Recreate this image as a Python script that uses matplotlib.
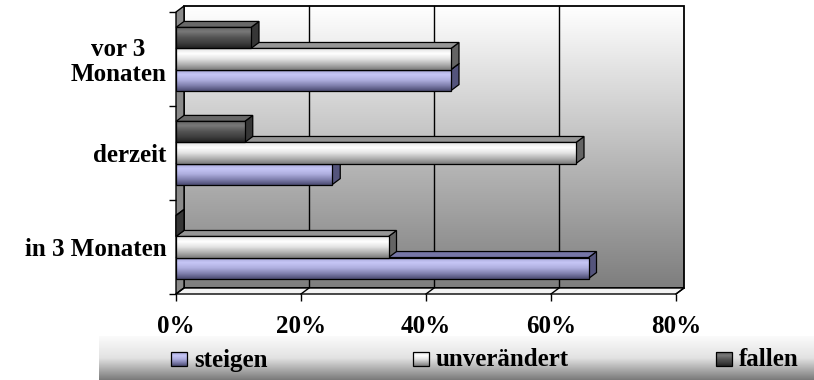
import numpy as np
import matplotlib.pyplot as plt
from matplotlib.patches import Polygon, Rectangle
from matplotlib.colors import LinearSegmentedColormap

# Erwartung Preise: Anteil der Antworten je Zeitpunkt
categories = ["in 3 Monaten", "derzeit", "vor 3\nMonaten"]
series = ["steigen", "unverändert", "fallen"]
steigen = [66, 25, 44]
unveraendert = [34, 64, 44]
fallen = [0, 11, 12]
x_ticks = [0, 20, 40, 60, 80]
x_labels = ["0%", "20%", "40%", "60%", "80%"]

plt.rcParams['font.family'] = ['Liberation Serif', 'DejaVu Serif']
plt.rcParams['font.weight'] = 'bold'
FS = 18

# colour ramps for the faces, listed top to bottom
styles = {
    "steigen": dict(front=['#a2a2d2', '#c6c6f6', '#aeaede', '#8080ae', '#4a4a70'],
                    top='#7676a6', side='#54547c'),
    "unverändert": dict(front=['#e0e0e0', '#ffffff', '#e2e2e2', '#b0b0b0', '#7a7a7a'],
                        top='#969696', side='#646464'),
    "fallen": dict(front=['#606060', '#787878', '#565656', '#404040', '#222222'],
                   top='#686868', side='#363636'),
}
for s in styles.values():
    s['cmap'] = LinearSegmentedColormap.from_list('f', s['front'])

grad = np.linspace(0, 1, 128).reshape(-1, 1)

fig = plt.figure(figsize=(8.14, 3.8), dpi=100)
ax = fig.add_axes([176 / 814, (380 - 294) / 380, 500 / 814, 282 / 380])

XMAX = 80
YLO, YHI = -0.5, 2.5
DX = 8 / (500 / XMAX)   # depth offset, 8 px to the right
DY = 6 / (282 / 3)      # depth offset, 6 px upwards
H = 0.224

# back wall with vertical shading
wall_cmap = LinearSegmentedColormap.from_list('wall', ['#ffffff', '#7e7e7e'])
ax.imshow(grad, cmap=wall_cmap, extent=[DX, XMAX + DX, YLO + DY, YHI + DY],
          aspect='auto', zorder=0, clip_on=False, interpolation='bilinear')
ax.add_patch(Rectangle((DX, YLO + DY), XMAX, YHI - YLO, fill=False,
                       edgecolor='black', lw=1.3, zorder=0.5, clip_on=False))
for t in x_ticks[1:-1]:
    ax.plot([t + DX, t + DX], [YLO + DY, YHI + DY], color='black', lw=1,
            zorder=0.6, clip_on=False)

# left wall and floor
ax.add_patch(Polygon([(0, YLO), (DX, YLO + DY), (DX, YHI + DY), (0, YHI)],
                     facecolor='#8a8a8a', edgecolor='black', lw=1, zorder=1,
                     clip_on=False))
ax.add_patch(Polygon([(0, YLO), (XMAX, YLO), (XMAX + DX, YLO + DY), (DX, YLO + DY)],
                     facecolor='#f2f2f2', edgecolor='black', lw=1, zorder=1,
                     clip_on=False))
for t in x_ticks:
    ax.plot([t, t + DX], [YLO, YLO + DY], color='black', lw=1, zorder=1.1,
            clip_on=False)


def draw_bar(val, y0, st, z):
    # side and top faces first, front face over them
    side = Polygon([(val, y0), (val + DX, y0 + DY), (val + DX, y0 + H + DY), (val, y0 + H)],
                   facecolor=st['side'], edgecolor='black', lw=0.9, zorder=z,
                   clip_on=False)
    top = Polygon([(0, y0 + H), (val, y0 + H), (val + DX, y0 + H + DY), (DX, y0 + H + DY)],
                  facecolor=st['top'], edgecolor='black', lw=0.9, zorder=z,
                  clip_on=False)
    ax.add_patch(side)
    ax.add_patch(top)
    if val <= 0:
        return
    bar = ax.barh(y0 + H / 2, val, height=H, color=st['front'][2],
                  edgecolor='none', zorder=z + 0.1)[0]
    im = ax.imshow(grad, cmap=st['cmap'], extent=[0, val, y0, y0 + H],
                   aspect='auto', zorder=z + 0.2, interpolation='bilinear')
    im.set_clip_path(bar)
    ax.barh(y0 + H / 2, val, height=H, fill=False, edgecolor='black',
            lw=0.9, zorder=z + 0.3)


values = [steigen, unveraendert, fallen]
z = 2
for i in range(len(categories)):
    for j, name in enumerate(series):
        y0 = i - 1.5 * H + j * H
        draw_bar(values[j][i], y0, styles[name], z)
        z += 1

ax.set_xlim(0, XMAX)
ax.set_ylim(YLO, YHI)
for sp in ax.spines.values():
    sp.set_visible(False)

ax.set_xticks(x_ticks)
ax.set_xticklabels(x_labels, fontsize=FS, fontweight='bold')
ax.tick_params(axis='x', direction='out', length=5, width=1, pad=10)
ax.set_yticks(range(len(categories)))
ax.set_yticklabels(categories, fontsize=FS, fontweight='bold',
                   multialignment='center', linespacing=1.1)
ax.set_yticks([YLO + k for k in range(len(categories) + 1)], minor=True)
ax.tick_params(axis='y', which='major', length=0, pad=7)
ax.tick_params(axis='y', which='minor', direction='out', length=5, width=1)

# legend band along the bottom
lax = fig.add_axes([99 / 814, 0, (814 - 99) / 814, 44 / 380])
lax.set_axis_off()
band_cmap = LinearSegmentedColormap.from_list('band', ['#fbfbfb', '#e2e2e2', '#7a7a7a'])
lax.imshow(grad, cmap=band_cmap, extent=[99, 814, 0, 44], aspect='auto',
           zorder=0, interpolation='bilinear')

legend_x = [171, 413, 716]
for name, lx in zip(series, legend_x):
    st = styles[name]
    box = Rectangle((lx, 14), 16, 14, facecolor=st['front'][2], edgecolor='none', zorder=1)
    lax.add_patch(box)
    im = lax.imshow(grad, cmap=st['cmap'], extent=[lx, lx + 16, 14, 28],
                    aspect='auto', zorder=1.1, interpolation='bilinear')
    im.set_clip_path(box)
    lax.add_patch(Rectangle((lx, 14), 16, 14, fill=False, edgecolor='black',
                            lw=0.9, zorder=1.2))
    lax.text(lx + 23, 20, name, fontsize=FS, fontweight='bold', va='center',
             ha='left', zorder=2)
lax.set_xlim(99, 814)
lax.set_ylim(0, 44)

fig.savefig('out.png', dpi=100)
